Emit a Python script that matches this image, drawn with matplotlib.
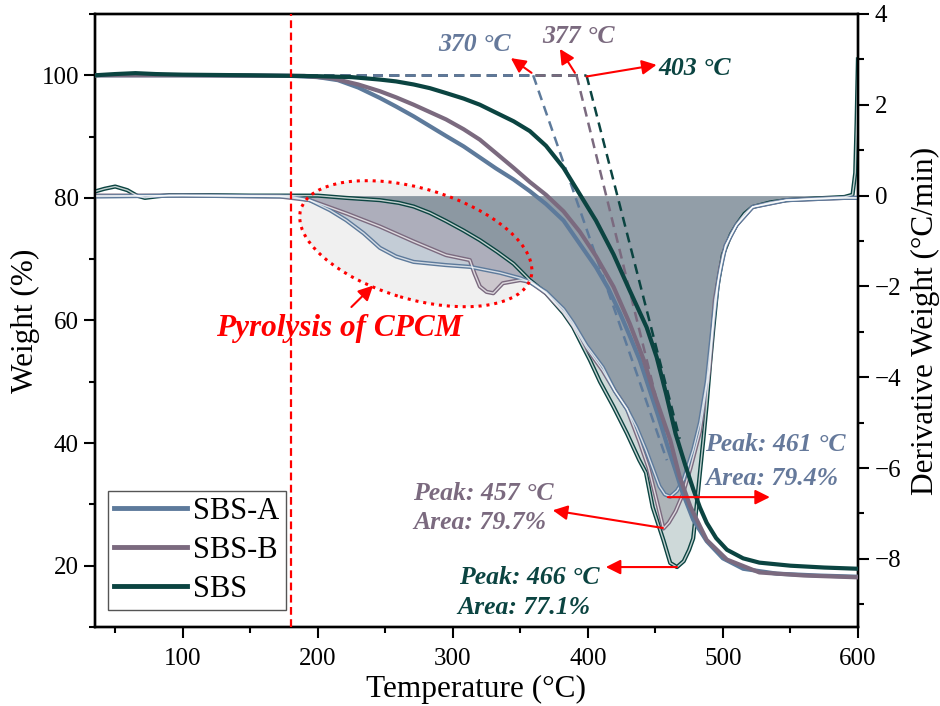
import numpy as np
import matplotlib
matplotlib.use('Agg')
import matplotlib.pyplot as plt
from matplotlib.patches import Ellipse
from matplotlib.ticker import MultipleLocator

plt.rcParams['font.family'] = ['Liberation Serif', 'DejaVu Serif']

# colours
c_a = '#5d7a9b'
c_b = '#7b6a7f'
c_s = '#0b4441'

# TGA curves (temperature in °C, weight in %)
t_tga_s = [35, 50, 65, 80, 100, 150, 200, 225, 246, 258, 271, 283, 295, 308, 320, 332, 345, 357, 369,
           382, 394, 406, 419, 431, 443.5, 451, 458, 465, 472, 478, 483, 488, 495, 503, 515, 527, 550,
           575, 600]
w_tga_s = [100.0, 100.2, 100.35, 100.2, 100.1, 100.0, 99.85, 99.7, 99.3, 99.0, 98.5, 97.9, 97.1, 96.2,
           95.2, 93.9, 92.5, 90.9, 88.5, 84.9, 80.6, 76.3, 70.8, 64.9, 58.9, 54.0, 48.0, 41.5, 36.5,
           32.5, 29.5, 27.0, 24.5, 22.6, 21.2, 20.5, 20.0, 19.7, 19.5]

t_tga_a = [35, 100, 180, 200, 215, 230, 246, 258, 271, 283, 295, 308, 320, 332, 345, 357, 369, 382, 394,
           406, 415, 424, 431, 438.5, 446, 452, 459, 465, 470, 478, 488, 500, 515, 540, 570, 600]
w_tga_a = [100.0, 100.0, 99.9, 99.7, 99.2, 98.0, 96.3, 94.9, 93.3, 91.7, 90.1, 88.4, 86.6, 84.8, 83.0,
           81.1, 79.0, 76.3, 72.5, 68.7, 65.3, 61.1, 57.5, 53.5, 48.5, 44.5, 39.5, 35.5, 32.0, 27.5,
           24.0, 21.2, 19.5, 18.7, 18.4, 18.2]

t_tga_b = [35, 100, 190, 211, 230, 246, 258, 271, 283, 295, 308, 320, 332, 345, 357, 369, 382, 394, 406,
           419, 431, 441, 450, 461, 468, 476, 488, 503, 527, 560, 600]
w_tga_b = [100.0, 100.0, 99.9, 99.5, 98.5, 97.4, 96.4, 95.2, 94.0, 92.8, 91.2, 89.5, 87.3, 84.9, 82.6,
           80.5, 77.8, 74.5, 70.5, 65.5, 59.5, 53.8, 47.5, 40.5, 34.5, 29.6, 24.2, 21.0, 18.9, 18.4,
           18.1]

# DTG curves (derivative weight)
t_dtg_s = [35, 42, 50, 59, 66, 72, 80, 90, 120, 150, 180, 200, 221, 246, 260, 271, 283, 295, 308, 320,
           333, 345, 357, 369, 382, 389, 396.5, 401.5, 409, 419, 429, 438, 443, 448, 456, 461, 466,
           471, 475, 478, 480.5, 483, 485.5, 488, 490.5, 493, 496, 500, 506, 510, 516, 522, 535, 547,
           570, 590, 596, 598, 599, 600]
r_dtg_s = [0.09, 0.15, 0.2, 0.12, 0.0, -0.05, -0.02, 0.01, 0.01, 0.0, 0.0, 0.0, -0.05, -0.1, -0.16,
           -0.24, -0.38, -0.56, -0.77, -0.98, -1.24, -1.5, -1.86, -2.15, -2.59, -2.89, -3.33, -3.62,
           -4.1, -4.65, -5.24, -5.82, -6.1, -6.86, -7.59, -8.09, -8.18, -8.05, -7.8, -7.55, -6.85,
           -6.1, -5.38, -4.6, -3.7, -2.9, -2.0, -1.3, -0.85, -0.65, -0.4, -0.25, -0.15, -0.1, -0.06,
           -0.03, 0.02, 0.5, 1.6, 3.0]

t_dtg_a = [35, 100, 180, 194, 209, 221, 234, 246, 258, 271, 295, 313, 335, 350, 357, 369, 382, 389, 399,
           411, 420, 429, 436, 443, 448, 453, 457, 461, 466, 471, 478, 483, 488, 493, 497, 502, 510,
           522, 547, 590, 600]
r_dtg_a = [-0.02, 0.0, -0.02, -0.1, -0.32, -0.54, -0.83, -1.15, -1.34, -1.46, -1.53, -1.57, -1.7,
           -1.82, -1.9, -2.12, -2.5, -2.8, -3.3, -3.78, -4.3, -4.7, -5.1, -5.6, -6.0, -6.4, -6.58,
           -6.63, -6.5, -6.25, -5.6, -5.0, -4.1, -2.7, -1.8, -1.1, -0.65, -0.25, -0.1, -0.05, -0.05]

t_dtg_b = [35, 100, 172, 194, 221, 246, 271, 295, 312.6, 316, 320, 325, 330, 337, 350, 357, 369, 382,
           389, 399, 411, 420, 429, 438, 445, 450, 456, 460, 465, 470, 476, 483, 490, 494, 498, 502,
           510, 522, 547, 590, 600]
r_dtg_b = [0.0, 0.0, -0.02, -0.1, -0.39, -0.68, -1.01, -1.31, -1.42, -1.71, -2.0, -2.12, -2.15, -1.93,
           -1.86, -1.9, -2.15, -2.55, -2.85, -3.35, -3.85, -4.3, -4.7, -5.4, -6.0, -6.6, -7.33, -7.2,
           -6.95, -6.6, -6.0, -5.2, -3.8, -2.3, -1.6, -1.1, -0.65, -0.25, -0.1, -0.05, -0.05]

# onset tangent lines (start on 100 % line, end on the steep part)
tan_a = ([359.5, 458.5], [100.0, 37.2])
tan_b = ([391.6, 457.0], [100.0, 41.6])
tan_s = ([399.0, 468.0], [100.0, 40.7])

fig = plt.figure(figsize=(9.4, 7.06), dpi=100)
ax = fig.add_axes([0.101, 0.1119, 0.8117, 0.8683])
ax2 = ax.twinx()
ax.set_zorder(ax2.get_zorder() + 1)
ax.patch.set_visible(False)

# background of the CPCM ellipse (in inches)
ell_c = (4.158, 4.623)
ax2.add_patch(Ellipse(ell_c, 2.40, 1.106, angle=-16.5, facecolor='#f0f0f0', edgecolor='none',
                      transform=fig.dpi_scale_trans, zorder=0.5, clip_on=False))

# DTG fills
for t, r, c, al in [(t_dtg_a, r_dtg_a, c_a, 0.3), (t_dtg_b, r_dtg_b, c_b, 0.3), (t_dtg_s, r_dtg_s, c_s, 0.2)]:
    t = np.array(t); r = np.array(r)
    m = t >= 175
    ax2.fill_between(t[m], 0, r[m], where=r[m] < 0, interpolate=True, color=c, alpha=al, lw=0, zorder=1)

# DTG curves drawn as double lines
for t, r, c in [(t_dtg_s, r_dtg_s, c_s), (t_dtg_b, r_dtg_b, c_b), (t_dtg_a, r_dtg_a, c_a)]:
    ax2.plot(t, r, color=c, lw=3.0, zorder=3, solid_joinstyle='round')
    ax2.plot(t, r, color='white', lw=1.0, alpha=0.75, zorder=3.1, solid_joinstyle='round')

# dashed onset lines
for tan, c in [(tan_s, c_s), (tan_b, c_b), (tan_a, c_a)]:
    ax.plot([120, tan[0][0]], [100, 100], color=c, lw=1.8, dashes=(4, 2.5), zorder=2)
    ax.plot(tan[0], tan[1], color=c, lw=1.8, dashes=(4, 2.5), zorder=2)

# TGA curves
la, = ax.plot(t_tga_a, w_tga_a, color=c_a, lw=3, label='SBS-A', zorder=3, solid_joinstyle='round')
lb, = ax.plot(t_tga_b, w_tga_b, color=c_b, lw=3, label='SBS-B', zorder=3, solid_joinstyle='round')
ls, = ax.plot(t_tga_s, w_tga_s, color=c_s, lw=3, label='SBS', zorder=3, solid_joinstyle='round')

ax.axvline(180, color='red', lw=1.6, dashes=(3.5, 2), zorder=4)

# ellipse outline
ax.add_patch(Ellipse(ell_c, 2.40, 1.106, angle=-16.5, facecolor='none', edgecolor='red', lw=2.2,
                     linestyle=(0, (1, 1.6)), transform=fig.dpi_scale_trans, zorder=5, clip_on=False))

arr = dict(arrowstyle='-|>', color='red', lw=1.5, mutation_scale=22, shrinkA=0, shrinkB=0)
bi = dict(fontsize=18.5, fontweight='bold', fontstyle='italic')

# onset labels
ax.annotate('', xy=(343, 102.8), xytext=(358.3, 100.4), arrowprops=arr, zorder=6)
ax.annotate('', xy=(379.3, 104.3), xytext=(390.4, 100.4), arrowprops=arr, zorder=6)
ax.annotate('', xy=(450.9, 101.7), xytext=(399, 99.8), arrowprops=arr, zorder=6)
ax.text(316.3, 105.0, '370 °C', color='#65799b', ha='center', va='center', **bi)
ax.text(393.3, 106.3, '377 °C', color=c_b, ha='center', va='center', **bi)
ax.text(479.3, 101.1, '403 °C', color=c_s, ha='center', va='center', **bi)

# peak labels
ax.annotate('', xy=(534.8, -6.64), xytext=(459.3, -6.64), xycoords=ax2.transData,
            textcoords=ax2.transData, arrowprops=arr, zorder=6)
ax.annotate('', xy=(374, -6.93), xytext=(455.6, -7.32), xycoords=ax2.transData,
            textcoords=ax2.transData, arrowprops=arr, zorder=6)
ax.annotate('', xy=(413.3, -8.18), xytext=(466, -8.18), xycoords=ax2.transData,
            textcoords=ax2.transData, arrowprops=arr, zorder=6)
for x, y, s, c in [(486.7, -5.49, 'Peak: 461 °C', '#65799b'), (486.7, -6.22, 'Area: 79.4%', '#65799b'),
                   (270.4, -6.55, 'Peak: 457 °C', c_b), (270.4, -7.19, 'Area: 79.7%', c_b),
                   (304.4, -8.40, 'Peak: 466 °C', c_s), (303.0, -9.07, 'Area: 77.1%', c_s)]:
    ax.text(x, y, s, color=c, ha='left', va='center', transform=ax2.transData, zorder=6, **bi)

# pyrolysis note
ax.annotate('', xy=(241, 65.7), xytext=(224.9, 62.2), arrowprops=arr, zorder=6)
ax.text(215.6, 58.7, 'Pyrolysis of CPCM', color='red', ha='center', va='center',
        fontsize=22.5, fontweight='bold', fontstyle='italic', zorder=6)

# axes
ax.set_xlim(35, 600)
ax.set_ylim(10, 110)
ax2.set_ylim(-9.5, 4)
ax.set_xticks([100, 200, 300, 400, 500, 600])
ax.set_yticks([20, 40, 60, 80, 100])
ax2.set_yticks([4, 2, 0, -2, -4, -6, -8])
ax.xaxis.set_minor_locator(MultipleLocator(50))
ax.yaxis.set_minor_locator(MultipleLocator(10))
ax2.yaxis.set_minor_locator(MultipleLocator(1))
for a in (ax, ax2):
    a.tick_params(which='major', direction='out', length=8, width=1.5, labelsize=18)
    a.tick_params(which='minor', direction='out', length=4, width=1.5)
    for sp in a.spines.values():
        sp.set_linewidth(1.7)
ax.tick_params(which='both', top=False, right=False)
ax.tick_params(axis='x', pad=7)
ax2.tick_params(axis='y', pad=4)

ax.set_xlabel('Temperature (°C)', fontsize=22.5, labelpad=4)
ax.set_ylabel('Weight (%)', fontsize=22.5, labelpad=1)
ax2.set_ylabel('Derivative Weight (°C/min)', fontsize=22.5, labelpad=7)

leg = ax.legend(handles=[la, lb, ls], loc='lower left', bbox_to_anchor=(0.017, 0.028), borderaxespad=0,
                fontsize=22, fancybox=False, edgecolor='#555555', framealpha=1, handlelength=2.4,
                handletextpad=0.2, labelspacing=0.32, borderpad=0.2)
leg.get_frame().set_linewidth(1.0)
for h in leg.legend_handles:
    h.set_linewidth(3.5)

fig.savefig('out.png', dpi=100)
